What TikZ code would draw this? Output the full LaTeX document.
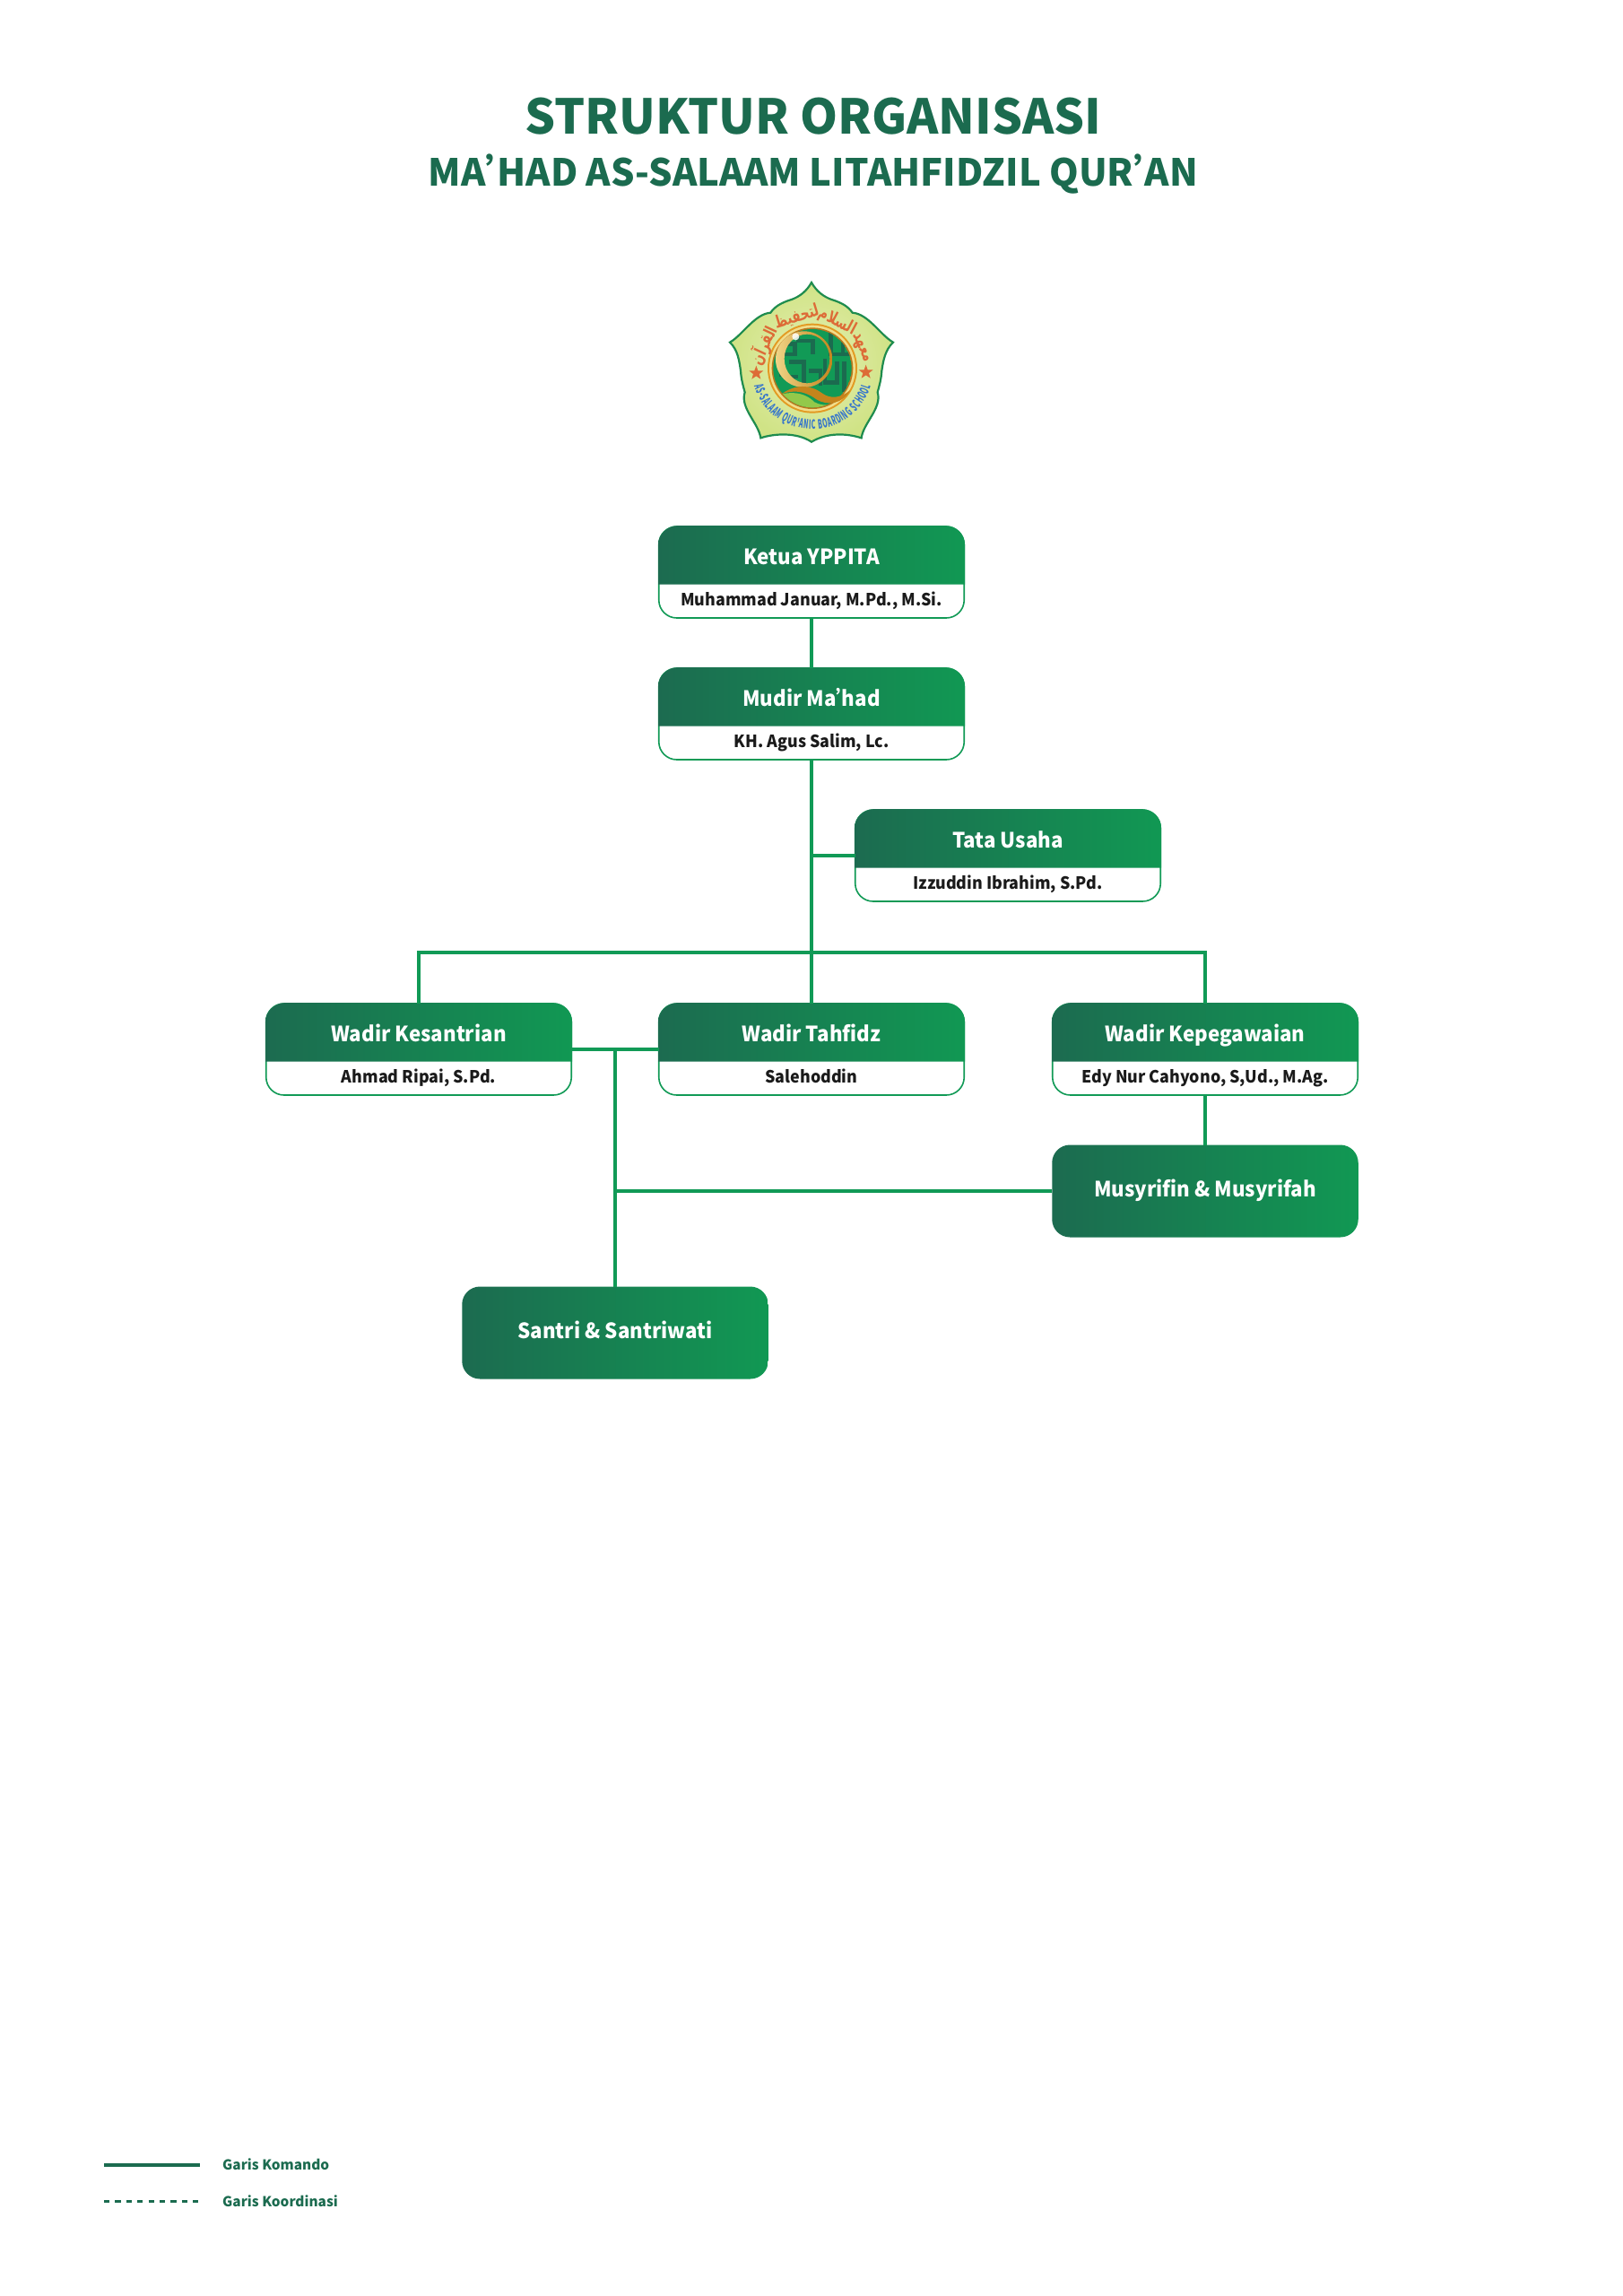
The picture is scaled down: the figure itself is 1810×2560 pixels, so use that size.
\documentclass[tikz,border=0pt]{standalone}
\usepackage{fontspec}
\usetikzlibrary{calc,decorations.text}
\setmainfont{Noto Sans CJK SC}
\newfontfamily\arabicfont[Script=Arabic,FakeStretch=0.72]{DejaVu Sans}
\newfontfamily\logofont[FakeStretch=0.5]{Noto Sans CJK SC}
\newfontfamily\headfont[FakeStretch=0.95]{Noto Sans CJK SC}
\TeXXeTstate=1
\newcommand{\apos}{’\kern-.7em}
\definecolor{titlegreen}{HTML}{1B6B4F}
\definecolor{linegreen}{HTML}{119A56}
\definecolor{gleft}{HTML}{1C6B50}
\definecolor{gmid}{HTML}{0B8052}
\definecolor{gright}{HTML}{119853}
\definecolor{inktext}{HTML}{1A1A1A}
\definecolor{logoedge}{HTML}{1E8C4E}
\definecolor{logoin}{HTML}{E6EFB4}
\definecolor{logoout}{HTML}{D0E386}
\definecolor{logogold}{HTML}{E39A22}
\definecolor{logopale}{HTML}{F1DD8A}
\definecolor{logogolddark}{HTML}{B9781E}
\definecolor{logoorange}{HTML}{DD6B37}
\definecolor{logoblue}{HTML}{3575CC}
\definecolor{logohill}{HTML}{93C94A}
\definecolor{qlight}{HTML}{EFD486}
\definecolor{qdark}{HTML}{C4841C}
\tikzset{
  boxbody/.style={draw=linegreen,line width=1.6pt,fill=white,rounded corners=20pt,minimum width=340.5pt,minimum height=102pt,inner sep=0pt,outer sep=0pt},
  solidbox/.style={draw=none,left color=gleft,middle color=gmid,right color=gright,rounded corners=20pt,minimum width=341.5pt,minimum height=103pt,inner sep=0pt,outer sep=0pt},
  headshade/.style={left color=gleft,middle color=gmid,right color=gright},
  headtext/.style={text=white,font=\headfont\bfseries\fontsize{23.5}{28}\selectfont,inner sep=0pt,anchor=base},
  subtext/.style={text=inktext,font=\headfont\bfseries\fontsize{18.8}{23}\selectfont,inner sep=0pt,anchor=base},
  conn/.style={draw=linegreen,line width=3.2pt},
  legendtext/.style={text=titlegreen,font=\bfseries\fontsize{15.4}{19}\selectfont,anchor=base west,inner sep=0pt},
  arabword/.style={text=logoorange,font=\arabicfont\bfseries\fontsize{19}{22}\selectfont,inner sep=0pt}
}
% name, centre x, top y, title, subtitle
\newcommand{\orgbox}[5]{%
  \node[boxbody] (#1) at (#2,#3+51) {};
  \path[headshade] (#2-171,#3+64.5) -- (#2-171,#3+20) .. controls (#2-171,#3+8.5) and (#2-160,#3-0.8) .. (#2-150,#3-0.8) -- (#2+150,#3-0.8) .. controls (#2+160,#3-0.8) and (#2+171,#3+8.5) .. (#2+171,#3+20) -- (#2+171,#3+64.5) -- cycle;
  \node[headtext] (#1h) at (#2,#3+42) {#4};
  \node[subtext] (#1s) at (#2,#3+88.5) {#5};
}
\begin{document}
\begin{tikzpicture}[x=1pt,y=-1pt]
\useasboundingbox (0,0) rectangle (1810,2560);
\fill[white] (0,0) rectangle (1810,2560);

% titles
\node[text=titlegreen,font=\bfseries\fontsize{53.5}{60}\selectfont,inner sep=0pt,anchor=base] (title) at (907,149) {STRUKTUR ORGANISASI};
\node[text=titlegreen,font=\bfseries\fontsize{41.6}{46}\selectfont,inner sep=0pt,anchor=base] (subtitle) at (907,207) {MA\apos HAD AS-SALAAM LITAHFIDZIL QUR\apos AN};

% logo
\begin{scope}[shift={(700,280)},x=0.33333pt,y=-0.33333pt]
  \path[draw=logoedge,line width=2.2pt,inner color=logoin,outer color=logoout]
    (615,105) .. controls (632,135) and (655,152) .. (682,162)
    .. controls (715,172) and (738,185) .. (752,206)
    .. controls (805,210) and (845,280) .. (888,305)
    .. controls (862,330) and (855,365) .. (850,400)
    .. controls (848,430) and (842,450) .. (836,472)
    .. controls (852,525) and (788,575) .. (782,625)
    .. controls (735,610) and (670,605) .. (615,638)
    .. controls (565,605) and (490,610) .. (445,625)
    .. controls (438,575) and (375,525) .. (392,472)
    .. controls (386,450) and (380,430) .. (378,400)
    .. controls (373,365) and (368,330) .. (342,305)
    .. controls (385,280) and (425,210) .. (478,206)
    .. controls (492,185) and (515,172) .. (548,162)
    .. controls (575,152) and (598,135) .. (615,105) -- cycle;
  % disc and pattern
  \fill[logogold] (618,392) circle[radius=150];
  \fill[logopale] (618,392) circle[radius=144];
  \fill[logogolddark] (618,392) circle[radius=136];
  \begin{scope}
    \clip (618,392) circle[radius=131];
    \fill[linegreen] (618,392) circle[radius=131];
    \draw[titlegreen,line width=4.5pt]
      (500,310) -- (560,310) -- (560,345) -- (515,345) -- (515,420)
      (540,370) -- (590,370) -- (590,440)
      (570,280) -- (570,300) -- (620,300) -- (620,345)
      (605,400) -- (645,400) -- (645,450)
      (680,270) -- (680,345) -- (750,345)
      (720,300) -- (720,345)
      (660,360) -- (660,440) -- (700,440) -- (700,370)
      (725,370) -- (725,470)
      (540,420) -- (570,420);
    \fill[logohill] (480,490) .. controls (540,465) and (590,470) .. (625,505) .. controls (660,525) and (700,510) .. (760,480) -- (760,560) -- (480,560) -- cycle;
  \end{scope}
  % Q
  \path[left color=qlight,right color=qdark,even odd rule]
    (590,362) ellipse[x radius=95,y radius=94]
    (600,360) ellipse[x radius=76,y radius=82];
  \path[left color=qdark,middle color=qlight,right color=qdark]
    (515,478) .. controls (560,445) and (610,445) .. (650,475)
    .. controls (680,497) and (715,490) .. (745,465)
    .. controls (720,510) and (670,520) .. (630,495)
    .. controls (590,465) and (550,465) .. (515,478) -- cycle;
  \fill[white,opacity=.85] (562,286) circle[radius=12];
  % stars
  \foreach \nm/\sx/\sy in {stara/430/408,starb/797/405}{
    \fill[logoorange] (\sx,\sy-25) -- (\sx+6,\sy-8) -- (\sx+24,\sy-8) -- (\sx+10,\sy+3) -- (\sx+15,\sy+20) -- (\sx,\sy+10) -- (\sx-15,\sy+20) -- (\sx-10,\sy+3) -- (\sx-24,\sy-8) -- (\sx-6,\sy-8) -- cycle;
  }
\end{scope}
\coordinate (logoc) at (906,410.7);
\node[arabword,rotate=-67] (ara) at ($(logoc)+(23:58pt)$) {\beginR معهد\endR};
\node[arabword,rotate=-28] (arb) at ($(logoc)+(62:59pt)$) {\beginR السلام\endR};
\node[arabword,rotate=17] (arc) at ($(logoc)+(107:60pt)$) {\beginR لتحفيظ\endR};
\node[arabword,rotate=65] (ard) at ($(logoc)+(155:60pt)$) {\beginR القرآن\endR};
\path[decorate,decoration={text along path,text align={fit to path},text={|\logofont\bfseries\fontsize{14}{16}\selectfont\color{logoblue}|AS-SALAAM QUR'ANIC BOARDING SCHOOL}}]
  ($(logoc)+(197:68pt)$) arc[start angle=197,end angle=343,radius=68pt];

% boxes
\orgbox{ketua}{905}{587}{Ketua YPPITA}{Muhammad Januar, M.Pd., M.Si.}
\orgbox{mudir}{905}{745}{Mudir Ma\apos had}{KH. Agus Salim, Lc.}
\orgbox{tata}{1124}{903}{Tata Usaha}{Izzuddin Ibrahim, S.Pd.}
\orgbox{kes}{467}{1119}{Wadir Kesantrian}{Ahmad Ripai, S.Pd.}
\orgbox{tah}{905}{1119}{Wadir Tahfidz}{Salehoddin}
\orgbox{kep}{1344}{1119}{Wadir Kepegawaian}{Edy Nur Cahyono, S,Ud., M.Ag.}
\node[solidbox] (mus) at (1344,1328) {};
\node[headtext] (must) at (1344,1334) {Musyrifin \& Musyrifah};
\node[solidbox] (san) at (686,1486) {};
\node[headtext] (sant) at (686,1492.5) {Santri \& Santriwati};
\coordinate (bus) at (905,1062);

% connectors
\draw[conn] (ketua.south) -- (mudir.north);
\draw[conn] (mudir.south) -- (tah.north);
\draw[conn] (tata.west) -- (mudir.south |- tata.west);
\draw[conn] (kes.north) -- (kes.north |- bus) -- (kep.north |- bus) -- (kep.north);
\draw[conn] (kes.east) -- (tah.west);
\draw[conn] (san.north) -- (san.north |- kes.east);
\draw[conn] (mus.west) -- (mus.west -| san.north);
\draw[conn] (kep.south) -- (mus.north);

% legend
\coordinate (la) at (116,2414);
\coordinate (lb) at (223,2414);
\coordinate (lc) at (116,2454.5);
\coordinate (ld) at (223,2454.5);
\draw[titlegreen,line width=3.6pt] (la) -- (lb);
\draw[titlegreen,line width=3.6pt,dash pattern=on 6.2pt off 6.2pt] (lc) -- (ld);
\node[legendtext] (lta) at (248,2419) {Garis Komando};
\node[legendtext] (ltb) at (248,2460) {Garis Koordinasi};
\end{tikzpicture}
\end{document}
